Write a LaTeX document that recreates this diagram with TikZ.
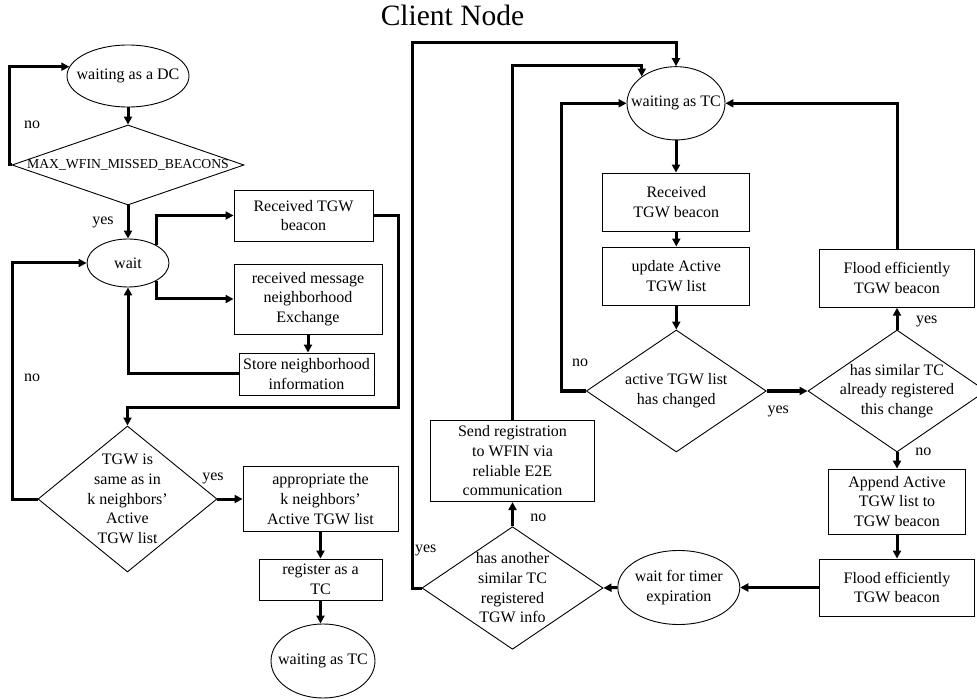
\documentclass[tikz,border=0pt]{standalone}
\usepackage{fontspec}
\setmainfont{Liberation Serif}
\usetikzlibrary{shapes.geometric,arrows.meta,calc}
\begin{document}
\begin{tikzpicture}[x=1pt,y=-1pt,
  base/.style={draw=black, line width=0.9pt, inner sep=0pt, align=center, font=\fontsize{16}{19.7}\selectfont},
  box/.style={base, rectangle},
  oval/.style={base, ellipse},
  dia/.style={base, diamond},
  lbl/.style={font=\fontsize{16}{19.7}\selectfont, inner sep=0pt, align=center},
  conn/.style={line width=3pt, -{Triangle[length=8pt,width=8pt]}},
]
\useasboundingbox (0,0) rectangle (977,700);

\node[font=\fontsize{29.5}{34}\selectfont, anchor=base, inner sep=0pt] (title) at (452.5,26) {Client Node};

% left flow
\node[oval, minimum width=122pt, minimum height=62pt, label={[lbl]center:waiting as a DC}] (e1) at (128,76) {};
\node[dia, minimum width=232pt, minimum height=80pt, label={[lbl,font=\fontsize{13.7}{16}\selectfont]center:MAX\_WFIN\_MISSED\_BEACONS}] (d1) at (128,165) {};
\node[oval, minimum width=82pt, minimum height=48pt, label={[lbl]center:wait}] (e2) at (128,263) {};
\node[box, minimum width=139pt, minimum height=51pt] (b1) at (303.5,215.5) {Received TGW\\beacon};
\node[box, minimum width=148pt, minimum height=70pt] (b2) at (308,299) {received message\\neighborhood\\Exchange};
\node[box, minimum width=135pt, minimum height=42pt] (b3) at (306.5,374) {Store neighborhood\\information};
\node[dia, minimum width=179pt, minimum height=146pt, label={[lbl]center:TGW is\\same as in\\k neighbors'\\Active\\TGW list}] (d2) at (127.5,499) {};
\node[box, minimum width=155pt, minimum height=65pt] (b4) at (320.5,499) {appropriate the\\k neighbors'\\Active TGW list};
\node[box, minimum width=123pt, minimum height=41pt] (b5) at (320.5,579.5) {register as a\\TC};
\node[oval, minimum width=104pt, minimum height=74pt, label={[lbl]center:waiting as TC}] (e3) at (323,661) {};

% right flow
\node[oval, minimum width=98pt, minimum height=73.3pt, label={[lbl]center:waiting as TC}] (e4) at (676,103.3) {};
\node[box, minimum width=147pt, minimum height=58pt] (b6) at (676.3,202) {Received\\TGW beacon};
\node[box, minimum width=147pt, minimum height=58pt] (b7) at (676.3,276) {update Active\\TGW list};
\node[dia, minimum width=180pt, minimum height=122pt, label={[lbl]center:active TGW list\\has changed}] (d3) at (676.3,391) {};
\node[dia, minimum width=178pt, minimum height=122pt, label={[lbl]center:has similar TC\\already registered\\this change}] (d4) at (897,391) {};
\node[box, minimum width=155.7pt, minimum height=58pt] (b8) at (897,278.3) {Flood efficiently\\TGW beacon};
\node[box, minimum width=136.3pt, minimum height=65pt] (b9) at (897,501.5) {Append Active\\TGW list to\\TGW beacon};
\node[box, minimum width=155.7pt, minimum height=57pt] (b10) at (897,587.5) {Flood efficiently\\TGW beacon};
\node[oval, minimum width=122pt, minimum height=74pt, label={[lbl]center:wait for timer\\expiration}] (e5) at (678.8,587.5) {};
\node[dia, minimum width=181pt, minimum height=122.6pt, label={[lbl]center:has another\\similar TC\\registered\\TGW info}] (d5) at (512.5,588) {};
\node[box, minimum width=163.6pt, minimum height=81.7pt] (b11) at (512.5,460.8) {Send registration\\to WFIN via\\reliable E2E\\communication};

% labels
\node[lbl] (l1) at (32,125) {no};
\node[lbl] (l2) at (103,222) {yes};
\node[lbl] (l3) at (32,378) {no};
\node[lbl] (l4) at (213,478) {yes};
\node[lbl] (l5) at (580,362.7) {no};
\node[lbl] (l6) at (778.3,411.7) {yes};
\node[lbl] (l7) at (926.7,321.7) {yes};
\node[lbl] (l8) at (923.3,452.3) {no};
\node[lbl] (l9) at (538.3,517.5) {no};
\node[lbl] (l10) at (425.8,550) {yes};

% left connectors
\draw[conn] (e1.south) -- (d1.north);
\draw[conn] (d1.west) -- ++(-2,0) |- (e1.171);
\draw[conn] (d1.south) -- (e2.north);
\draw[conn] (e2.32) |- (b1.west);
\draw[conn] (e2.-32) |- (b2.west);
\draw[conn] (b2.south) -- (b2.south |- b3.north);
\draw[conn] (b3.west) -| (e2.south);
\draw[conn] (b1.east) -- ++(25,0) |- ([yshift=18pt]d2.north) -- (d2.north);
\draw[conn] (d2.west) -- ++(-25,0) |- (e2.west);
\draw[conn] (d2.east) -- (b4.west);
\draw[conn] (b4.south) -- (b5.north);
\draw[conn] (b5.south) -- (b5.south |- e3.north);

% right connectors
\draw[conn] (e4.south) -- (e4.south |- b6.north);
\draw[conn] (b6.south) -- (b7.north);
\draw[conn] (b7.south) -- (d3.north);
\draw[conn] (d3.west) -- ++(-24.5,0) |- (e4.west);
\draw[conn] (d3.east) -- (d4.west);
\draw[conn] (d4.north) -- (b8.south);
\draw[conn] (b8.north) |- (e4.east);
\draw[conn] (d4.south) -- (b9.north);
\draw[conn] (b9.south) -- (b10.north);
\draw[conn] (b10.west) -- (e5.east);
\draw[conn] (e5.west) -- (d5.east);
\draw[conn] (d5.north) -- (b11.south);
\draw[conn] (b11.north) |- ([yshift=10.7pt]e4.142) -- (e4.142);
\draw[conn] (d5.west) -- ++(-9,0) |- ([yshift=24pt]e4.north) -- (e4.north);
\end{tikzpicture}
\end{document}
